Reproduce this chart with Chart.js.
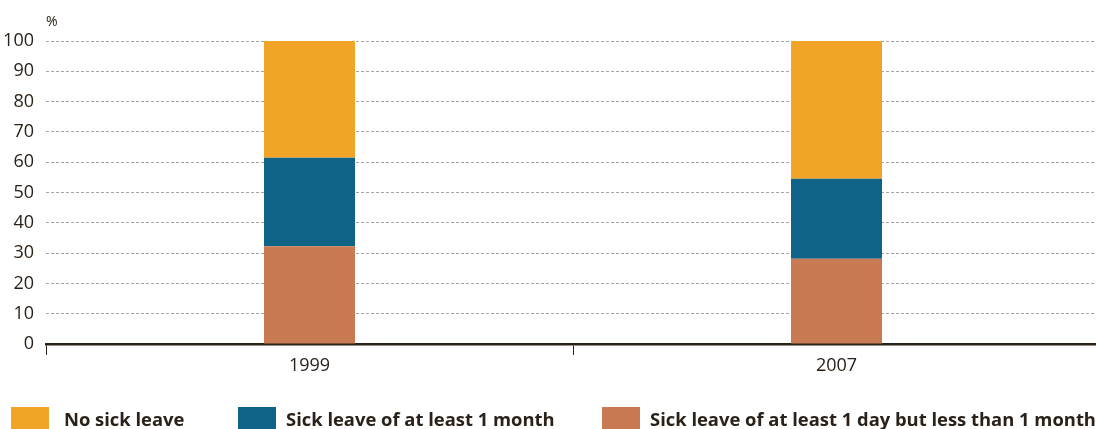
<!DOCTYPE html>
<html>
<head>
<meta charset="utf-8">
<script src="https://cdn.jsdelivr.net/npm/chart.js@4/dist/chart.umd.min.js"></script>
<style>
  html, body { margin: 0; padding: 0; background: #fff; overflow: hidden; }
  #wrap { position: relative; width: 1096px; height: 429px; overflow: hidden; }
  #chart { position: absolute; left: 0; top: 0; }
  .unit { position: absolute; left: 46px; top: 11px; font: 14px "Open Sans", sans-serif; color: #2a2219; }
  .legend { position: absolute; top: 407px; left: 0; width: 1096px; height: 30px; font-family: "Open Sans", sans-serif; }
  .sw { width: 38px; height: 26px; }
  .lbl { font-weight: 700; font-size: 18.4px; color: #2a2219; line-height: 20px; margin-top: 2px; white-space: nowrap; }
</style>
</head>
<body>
<div id="wrap">
  <canvas id="chart" width="1100" height="429" style="width:1100px;height:429px"></canvas>
  <div class="unit">%</div>
  <div class="legend" id="legend"></div>
</div>
<script>
// Survey years
const categories = ['1999', '2007'];
// Share of employees (%) by sick-leave status, stacked bottom to top
const shortLeave = [32.3, 28.1];   // at least 1 day but less than 1 month
const longLeave  = [29.2, 26.4];   // at least 1 month
const noLeave    = [38.5, 45.5];   // no sick leave
const yTicks = [0, 10, 20, 30, 40, 50, 60, 70, 80, 90, 100];

const seriesNames = {
  none: 'No sick leave',
  long: 'Sick leave of at least 1 month',
  short: 'Sick leave of at least 1 day but less than 1 month'
};
const colors = { none: '#f0a428', long: '#0e6386', short: '#c87a53' };
const ink = '#2a2219';

new Chart(document.getElementById('chart'), {
  type: 'bar',
  data: {
    labels: categories,
    datasets: [
      { label: seriesNames.short, data: shortLeave, backgroundColor: colors.short },
      { label: seriesNames.long,  data: longLeave,  backgroundColor: colors.long },
      { label: seriesNames.none,  data: noLeave,    backgroundColor: colors.none }
    ]
  },
  options: {
    responsive: false,
    animation: false,
    layout: { padding: { top: 41, right: 0, left: 0, bottom: 0 } },
    datasets: { bar: { categoryPercentage: 1, barPercentage: 0.1727 } },
    plugins: { legend: { display: false }, tooltip: { enabled: false } },
    scales: {
      x: {
        stacked: true,
        offset: true,
        afterFit: s => { s.height = 85; },
        grid: { offset: true, drawOnChartArea: false, drawTicks: true, tickLength: 11, tickColor: ink, tickWidth: 1 },
        border: { display: true, color: ink, width: 2.5 },
        ticks: { color: ink, font: { family: 'Open Sans', size: 18 }, padding: 0 }
      },
      y: {
        stacked: true,
        min: 0, max: 100,
        afterFit: s => { s.width = 46; },
        afterBuildTicks: s => { s.ticks = yTicks.map(v => ({ value: v })); },
        grid: { color: '#a8a79f', lineWidth: 1, drawTicks: false },
        border: { display: false, dash: [3, 2] },
        ticks: { color: ink, font: { family: 'Open Sans', size: 18 }, padding: 12 }
      }
    }
  }
});

// Legend row beneath the axis
const legendItems = [
  { key: 'none', x: 11, tx: 64 },
  { key: 'long', x: 238, tx: 286 },
  { key: 'short', x: 602, tx: 650 }
];
const legend = document.getElementById('legend');
legendItems.forEach(it => {
  const sw = document.createElement('div');
  sw.className = 'sw';
  sw.style.cssText = `position:absolute;left:${it.x}px;top:0;background:${colors[it.key]}`;
  const lb = document.createElement('div');
  lb.className = 'lbl';
  lb.style.cssText = `position:absolute;left:${it.tx}px;top:0`;
  lb.textContent = seriesNames[it.key];
  legend.appendChild(sw);
  legend.appendChild(lb);
});
</script>
</body>
</html>
